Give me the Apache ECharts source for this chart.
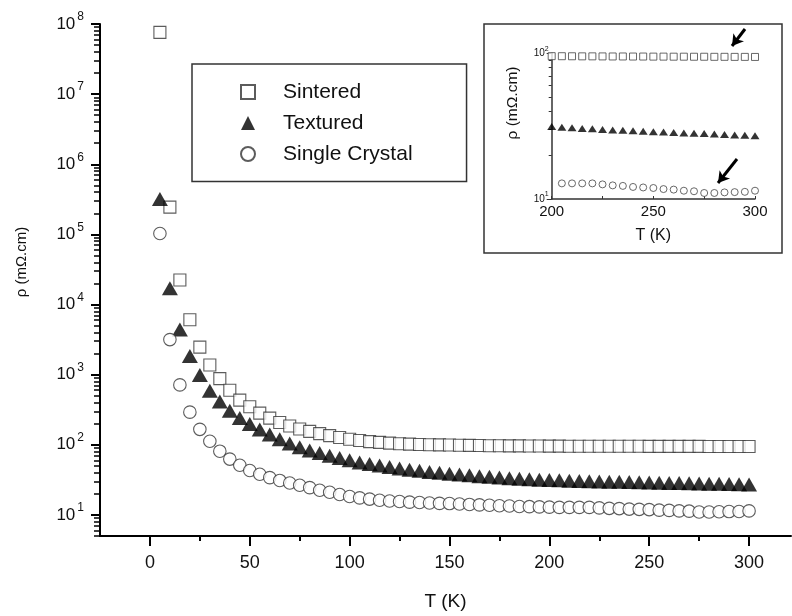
<!DOCTYPE html>
<html><head><meta charset="utf-8">
<script src="https://cdn.jsdelivr.net/npm/echarts@6/dist/echarts.min.js"></script>
<style>html,body{margin:0;padding:0;background:#fff}#c{width:792px;height:616px}</style>
</head><body><div id="c"></div>
<script>
const temps = [5,10,15,20,25,30,35,40,45,50,55,60,65,70,75,80,85,90,95,100,105,110,115,120,125,130,135,140,145,150,155,160,165,170,175,180,185,190,195,200,205,210,215,220,225,230,235,240,245,250,255,260,265,270,275,280,285,290,295,300];
const sintered = [7.6e7,2.45e5,2.24e4,6070,2470,1370,878,600,433,349,283,240,208,185,168,155,144,135,127,120,115,111,108,105.5,103.5,102,101,100,99.5,99,98.5,98,97.5,97,96.8,96.5,96.3,96,95.8,95.6,95.5,95.4,95.3,95.3,95.2,95.1,95.1,95.0,95.0,94.9,94.9,94.8,94.8,94.7,94.7,94.6,94.6,94.5,94.5,94.4];
const textured = [3.2e5,1.7e4,4400,1840,990,588,415,305,240,198,165,140,120,104,92,83,76,70,64.5,60,56,53,50.5,48,46,44,42.5,41,39.8,38.7,37.6,36.6,35.7,34.9,34.1,33.4,32.8,32.3,31.8,31.4,31.1,30.8,30.5,30.3,30.0,29.8,29.6,29.4,29.2,29.0,28.8,28.6,28.4,28.3,28.1,27.9,27.7,27.5,27.4,27.2];
const singleCrystal = [1.03e5,3160,714,292,166,112,81,62.5,51,43,38,34,31,28.5,26.5,24.5,22.5,21,19.5,18.3,17.5,16.8,16.2,15.8,15.5,15.2,15.0,14.8,14.6,14.5,14.3,14.1,13.9,13.7,13.5,13.4,13.2,13.1,13.0,12.9,12.8,12.8,12.8,12.8,12.6,12.4,12.3,12.1,12.0,11.9,11.7,11.6,11.4,11.3,11.0,11.0,11.1,11.15,11.2,11.4];
const seriesNames = ['Sintered','Textured','Single Crystal'];
const xMajorTicks = [0,50,100,150,200,250,300];
const xMinorTicks = [25,75,125,175,225,275];
const yMajorTicks = [10,100,1e3,1e4,1e5,1e6,1e7,1e8];
const yMinorTicks = [5,6,7,8,9,20,30,40,50,60,70,80,90,200,300,400,500,600,700,800,900,2e3,3e3,4e3,5e3,6e3,7e3,8e3,9e3,2e4,3e4,4e4,5e4,6e4,7e4,8e4,9e4,2e5,3e5,4e5,5e5,6e5,7e5,8e5,9e5,2e6,3e6,4e6,5e6,6e6,7e6,8e6,9e6,2e7,3e7,4e7,5e7,6e7,7e7,8e7,9e7];
const insetXLabels = [200,250,300];
const insetXTicks = [200,225,250,275,300];
const insetYMajor = [10,100];
const insetYMinor = [20,30,40,50,60,70,80,90];
const insetStart = 200;

const FF = '"Liberation Sans", Arial, sans-serif';
const INK = '#111';
const pairs = arr => temps.map((t,i)=>[t,arr[i]]);
const insetPairs = (arr, from) => temps.map((t,i)=>[t,arr[i]]).filter(p=>p[0]>=from);

const supFmt = v => '{b|10}{s|' + Math.round(Math.log10(v)) + '}';

const chart = echarts.init(document.getElementById('c'), null, {renderer:'canvas'});
const openStyle = {color:'#fff', borderColor:'#333', borderWidth:1.1};
const fillStyle = {color:'#000'};

chart.setOption({
  animation:false,
  backgroundColor:'#fff',
  grid:[
    {left:100, right:1, top:24, bottom:76.5},
    {left:551.7, right:37, top:53.3, bottom:417}
  ],
  legend:{
    orient:'vertical', left:192, top:64,
    padding:[17.5,54,17,48],
    itemWidth:14, itemHeight:14, itemGap:10,
    borderColor:'#333', borderWidth:1.5, borderRadius:0,
    textStyle:{fontSize:21, color:INK, fontFamily:FF, padding:[0,0,0,23]},
    data:seriesNames,
    selectedMode:false
  },
  xAxis:[
    {type:'value', gridIndex:0, min:-25, max:321, position:'bottom',
     axisLine:{show:true, onZero:false, lineStyle:{color:'#000', width:2}},
     axisTick:{show:true, inside:false, length:10, customValues:xMajorTicks, lineStyle:{color:'#000', width:2}},
     axisLabel:{show:true, customValues:xMajorTicks, margin:18, fontSize:18, color:INK, fontFamily:FF},
     splitLine:{show:false},
     name:'T (K)', nameLocation:'middle', nameGap:56,
     nameTextStyle:{fontSize:19, color:INK, fontFamily:FF}},
    {type:'value', gridIndex:0, min:-25, max:321, position:'bottom',
     axisLine:{show:false, onZero:false},
     axisTick:{show:true, length:5, customValues:xMinorTicks, lineStyle:{color:'#000', width:2}},
     axisLabel:{show:false}, splitLine:{show:false}},
    {type:'value', gridIndex:1, min:200, max:300, position:'bottom',
     axisLine:{show:true, onZero:false, lineStyle:{color:'#333', width:1.5}},
     axisTick:{show:true, inside:true, length:3, customValues:insetXTicks, lineStyle:{color:'#333', width:1}},
     axisLabel:{show:true, customValues:insetXLabels, margin:5, fontSize:15, color:INK, fontFamily:FF},
     splitLine:{show:false},
     name:'T (K)', nameLocation:'middle', nameGap:29,
     nameTextStyle:{fontSize:16, color:INK, fontFamily:FF}}
  ],
  yAxis:[
    {type:'log', logBase:10, gridIndex:0, min:5, max:1e8, position:'left',
     axisLine:{show:true, onZero:false, lineStyle:{color:'#000', width:2}},
     axisTick:{show:true, length:9, customValues:yMajorTicks, lineStyle:{color:'#000', width:2}},
     axisLabel:{show:true, customValues:yMajorTicks, margin:16, formatter:supFmt,
       rich:{b:{fontSize:17, lineHeight:26, color:INK, fontFamily:FF},
             s:{fontSize:12, lineHeight:12, verticalAlign:'top', color:INK, fontFamily:FF, padding:[0,0,0,2]}}},
     splitLine:{show:false}},
    {type:'log', logBase:10, gridIndex:0, min:5, max:1e8, position:'left',
     axisLine:{show:false, onZero:false},
     axisTick:{show:true, length:6, customValues:yMinorTicks, lineStyle:{color:'#000', width:1.5}},
     axisLabel:{show:false}, splitLine:{show:false}},
    {type:'log', logBase:10, gridIndex:1, min:10, max:100, position:'left',
     axisLine:{show:true, onZero:false, lineStyle:{color:'#333', width:1.5}},
     axisTick:{show:true, length:5, customValues:insetYMajor, lineStyle:{color:'#333', width:1}},
     axisLabel:{show:true, customValues:insetYMajor, margin:3, formatter:supFmt,
       rich:{b:{fontSize:10, lineHeight:16, color:INK, fontFamily:FF},
             s:{fontSize:7, lineHeight:8, verticalAlign:'top', color:INK, fontFamily:FF}}},
     splitLine:{show:false}},
    {type:'log', logBase:10, gridIndex:1, min:10, max:100, position:'left',
     axisLine:{show:false, onZero:false},
     axisTick:{show:true, length:3, customValues:insetYMinor, lineStyle:{color:'#333', width:1}},
     axisLabel:{show:false}, splitLine:{show:false}}
  ],
  graphic:[
    {type:'rect', shape:{x:484, y:24, width:298, height:229}, style:{fill:'none', stroke:'#333', lineWidth:1.5}, z:1},
    {type:'text', x:22, y:262, rotation:Math.PI/2,
     style:{text:'ρ (mΩ.cm)', font:'15px ' + FF, fill:INK, align:'center', verticalAlign:'middle'}},
    {type:'text', x:513, y:103, rotation:Math.PI/2,
     style:{text:'ρ (mΩ.cm)', font:'15.5px ' + FF, fill:INK, align:'center', verticalAlign:'middle'}}
  ],
  series:[
    {name:'Sintered', type:'scatter', xAxisIndex:0, yAxisIndex:0, symbol:'rect', symbolSize:12,
     itemStyle:openStyle, data:pairs(sintered), z:2},
    {name:'Textured', type:'scatter', xAxisIndex:0, yAxisIndex:0, symbol:'triangle', symbolSize:[16,14],
     itemStyle:fillStyle, data:pairs(textured), z:3},
    {name:'Single Crystal', type:'scatter', xAxisIndex:0, yAxisIndex:0, symbol:'circle', symbolSize:12.5,
     itemStyle:openStyle, data:pairs(singleCrystal), z:4},
    {name:'Sintered inset', type:'scatter', xAxisIndex:2, yAxisIndex:2, symbol:'rect', symbolSize:7,
     itemStyle:{color:'#fff', borderColor:'#444', borderWidth:1}, data:insetPairs(sintered, insetStart), clip:false, z:5,
     markLine:{silent:true, symbol:['none','arrow'], symbolSize:[10,11], label:{show:false},
       lineStyle:{color:'#000', width:3, type:'solid'},
       data:[[{x:745, y:29},{x:732, y:46}],[{x:737, y:159},{x:718, y:183}]]}},
    {name:'Textured inset', type:'scatter', xAxisIndex:2, yAxisIndex:2, symbol:'triangle', symbolSize:[9,7],
     itemStyle:{color:'#000'}, data:insetPairs(textured, insetStart), clip:false, z:5},
    {name:'Single Crystal inset', type:'scatter', xAxisIndex:2, yAxisIndex:2, symbol:'circle', symbolSize:7,
     itemStyle:{color:'#fff', borderColor:'#444', borderWidth:1}, data:insetPairs(singleCrystal, insetStart + 5), clip:false, z:5}
  ]
});
</script></body></html>
